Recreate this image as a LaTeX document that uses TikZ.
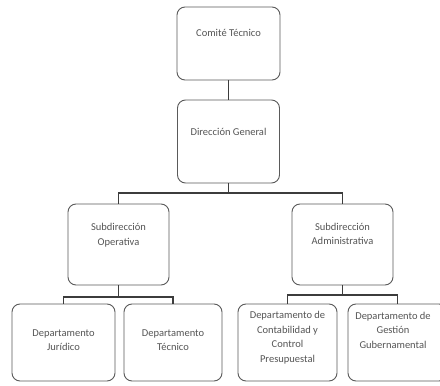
\documentclass[tikz,border=0pt]{standalone}
\usepackage{fontspec}
\setmainfont{Carlito}
\definecolor{boxline}{HTML}{5A5A5A}
\definecolor{conline}{HTML}{3C3C3C}
\definecolor{txtcol}{HTML}{555555}
\tikzset{
  orgbox/.style={draw=boxline, line width=0.9pt, rounded corners=8pt, inner sep=0pt},
  orgtxt/.style={text=txtcol, align=center, font=\fontsize{10.5}{14.5}\selectfont, inner sep=0pt},
  conn/.style={draw=conline, line width=1.1pt}
}
\begin{document}
\begin{tikzpicture}[x=1pt,y=-1pt]
\clip (0,0) rectangle (440,386);
\fill[white] (0,0) rectangle (440,386);
% boxes
\node[orgbox, minimum width=103pt, minimum height=73pt] (ct) at (228.5,43.5) {};
\node[orgbox, minimum width=102pt, minimum height=83pt] (dg) at (228.5,141.5) {};
\node[orgbox, minimum width=101pt, minimum height=81pt] (so) at (118.5,244.5) {};
\node[orgbox, minimum width=101pt, minimum height=81pt] (sa) at (342.5,244.5) {};
\node[orgbox, minimum width=103pt, minimum height=77pt] (dj) at (63.5,342.5) {};
\node[orgbox, minimum width=98pt, minimum height=77pt] (dt) at (173,342.5) {};
\node[orgbox, minimum width=99pt, minimum height=77pt] (dc) at (287.5,342.5) {};
\node[orgbox, minimum width=99pt, minimum height=77pt] (dgg) at (397.5,342.5) {};
% texts
\node[orgtxt] (tct) at (228.5,33) {Comité Técnico};
\node[orgtxt] (tdg) at (228.5,132) {Dirección General};
\node[orgtxt] (tso) at (118.5,235) {Subdirección\\Operativa};
\node[orgtxt] (tsa) at (342.5,234) {Subdirección\\Administrativa};
\node[orgtxt] (tdj) at (63.5,340) {Departamento\\Jurídico};
\node[orgtxt] (tdt) at (173,340) {Departamento\\Técnico};
\node[orgtxt] (tdc) at (287.5,337.5) {Departamento de\\Contabilidad y\\Control\\Presupuestal};
\node[orgtxt] (tdgg) at (393,330) {Departamento de\\Gestión\\Gubernamental};
% connectors
\coordinate (j1) at (228.5,193);
\coordinate (j2) at (118.5,297);
\coordinate (j3) at (342.5,295);
\draw[conn] (ct.south) -- (dg.north);
\draw[conn] (dg.south) -- (j1);
\draw[conn] (so.north) |- (j1) -| (sa.north);
\draw[conn] (so.south) -- (j2);
\draw[conn] (dj.north) |- (j2) -| (dt.north);
\draw[conn] (sa.south) -- (j3);
\draw[conn] (dc.north) |- (j3) -| (dgg.north);
\end{tikzpicture}
\end{document}
